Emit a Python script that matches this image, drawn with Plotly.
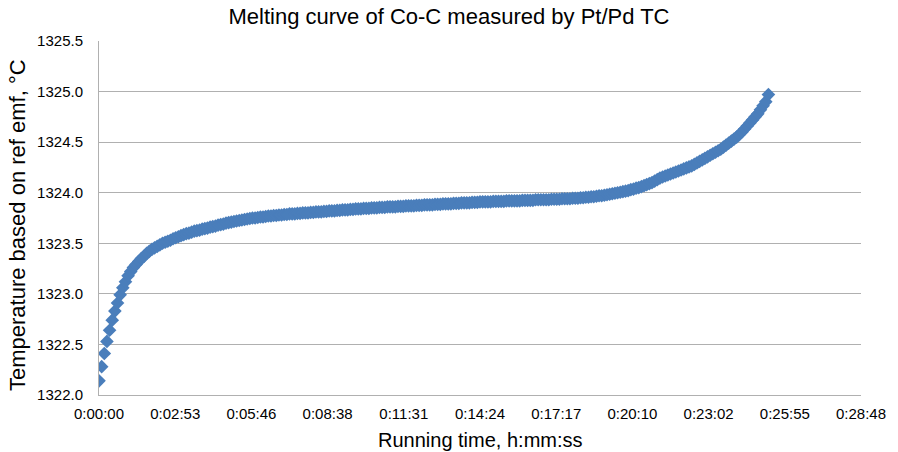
import plotly.graph_objects as go

# Sampling grid (seconds from start, one reading every 6 s)
time_s = list(range(0, 1524, 6))

# Temperature readings (deg C)
temp_c = [
    1322.14, 1322.28, 1322.41, 1322.53, 1322.64, 1322.74, 1322.83, 1322.91, 1322.99, 1323.06,
    1323.12, 1323.18, 1323.22, 1323.26, 1323.29, 1323.32, 1323.35, 1323.37, 1323.40, 1323.42,
    1323.44, 1323.455, 1323.47, 1323.485, 1323.50, 1323.51, 1323.52, 1323.53, 1323.545, 1323.555,
    1323.565, 1323.575, 1323.585, 1323.595, 1323.60, 1323.61, 1323.62, 1323.625, 1323.63, 1323.64,
    1323.645, 1323.65, 1323.66, 1323.665, 1323.67, 1323.68, 1323.685, 1323.69, 1323.70, 1323.705,
    1323.71, 1323.715, 1323.72, 1323.725, 1323.73, 1323.735, 1323.74, 1323.745, 1323.75, 1323.75,
    1323.755, 1323.76, 1323.76, 1323.765, 1323.77, 1323.77, 1323.775, 1323.775, 1323.78, 1323.78,
    1323.785, 1323.785, 1323.79, 1323.79, 1323.79, 1323.795, 1323.795, 1323.80, 1323.80, 1323.80,
    1323.805, 1323.805, 1323.81, 1323.81, 1323.81, 1323.815, 1323.815, 1323.82, 1323.82, 1323.82,
    1323.825, 1323.825, 1323.83, 1323.83, 1323.83, 1323.835, 1323.835, 1323.84, 1323.84, 1323.84,
    1323.845, 1323.845, 1323.845, 1323.85, 1323.85, 1323.85, 1323.855, 1323.855, 1323.855, 1323.86,
    1323.86, 1323.86, 1323.86, 1323.865, 1323.865, 1323.865, 1323.87, 1323.87, 1323.87, 1323.87,
    1323.875, 1323.875, 1323.875, 1323.88, 1323.88, 1323.88, 1323.88, 1323.885, 1323.885, 1323.885,
    1323.89, 1323.89, 1323.89, 1323.89, 1323.895, 1323.895, 1323.895, 1323.90, 1323.90, 1323.90,
    1323.90, 1323.905, 1323.905, 1323.905, 1323.91, 1323.91, 1323.91, 1323.91, 1323.91, 1323.915,
    1323.915, 1323.915, 1323.915, 1323.915, 1323.92, 1323.92, 1323.92, 1323.92, 1323.92, 1323.92,
    1323.925, 1323.925, 1323.925, 1323.925, 1323.925, 1323.93, 1323.93, 1323.93, 1323.93, 1323.93,
    1323.93, 1323.935, 1323.935, 1323.935, 1323.935, 1323.94, 1323.94, 1323.94, 1323.94, 1323.945,
    1323.945, 1323.945, 1323.95, 1323.95, 1323.955, 1323.955, 1323.96, 1323.96, 1323.965, 1323.97,
    1323.97, 1323.975, 1323.98, 1323.985, 1323.99, 1323.995, 1324.00, 1324.005, 1324.01, 1324.015,
    1324.02, 1324.03, 1324.035, 1324.045, 1324.05, 1324.06, 1324.07, 1324.08, 1324.09, 1324.10,
    1324.115, 1324.13, 1324.145, 1324.155, 1324.165, 1324.175, 1324.185, 1324.195, 1324.205, 1324.215,
    1324.225, 1324.235, 1324.245, 1324.255, 1324.265, 1324.28, 1324.295, 1324.31, 1324.325, 1324.34,
    1324.355, 1324.37, 1324.385, 1324.40, 1324.415, 1324.43, 1324.45, 1324.47, 1324.49, 1324.51,
    1324.53, 1324.55, 1324.575, 1324.60, 1324.63, 1324.66, 1324.69, 1324.72, 1324.75, 1324.78,
    1324.82, 1324.86, 1324.90, 1324.97,
]

# Axis ticks (Excel time axis, major unit 0.002 day = 172.8 s)
x_tick_labels = ["0:00:00", "0:02:53", "0:05:46", "0:08:38", "0:11:31", "0:14:24",
                 "0:17:17", "0:20:10", "0:23:02", "0:25:55", "0:28:48"]
x_tick_vals = [i * 172.8 for i in range(len(x_tick_labels))]
y_tick_vals = [1322.0, 1322.5, 1323.0, 1323.5, 1324.0, 1324.5, 1325.0, 1325.5]
y_tick_labels = ["%.1f" % v for v in y_tick_vals]

FONT = "Liberation Sans, Arial, sans-serif"
GRID = "#B0B0B0"

fig = go.Figure()
fig.add_trace(go.Scatter(
    x=time_s, y=temp_c, mode="markers",
    marker=dict(symbol="diamond", size=10.5, color="#4A7EBB", line=dict(width=0)),
    showlegend=False,
))

fig.update_layout(
    width=898, height=452,
    margin=dict(l=99, r=33, t=41, b=57),
    paper_bgcolor="white", plot_bgcolor="white",
    font=dict(family=FONT, color="#000000", size=15),
    title=dict(text="Melting curve of Co-C measured by Pt/Pd TC",
               x=0.5, xanchor="center", y=1 - 16 / 452, yanchor="middle",
               font=dict(size=22, family=FONT, color="#000000")),
    xaxis=dict(range=[0, 1728], tickmode="array", tickvals=x_tick_vals, ticktext=x_tick_labels,
               showgrid=False, zeroline=False, showline=True, linecolor=GRID, linewidth=1,
               ticks="", ticklabelstandoff=5, tickfont=dict(size=15)),
    yaxis=dict(range=[1322.0, 1325.5], tickmode="array", tickvals=y_tick_vals, ticktext=y_tick_labels,
               showgrid=True, gridcolor=GRID, gridwidth=1, zeroline=False,
               showline=True, linecolor=GRID, linewidth=1,
               ticks="", ticklabelstandoff=12, tickfont=dict(size=15)),
    annotations=[
        dict(text="Running time, h:mm:ss", xref="paper", yref="paper",
             x=0.5, y=0, yshift=-45, xanchor="center", yanchor="middle",
             showarrow=False, font=dict(size=20, family=FONT, color="#000000")),
        dict(text="Temperature based on ref emf, °C", xref="paper", yref="paper",
             x=0, xshift=-82, y=0.5, yshift=-7, xanchor="center", yanchor="middle",
             textangle=-90, showarrow=False, font=dict(size=22, family=FONT, color="#000000")),
    ],
)

fig.write_html("out.html")
